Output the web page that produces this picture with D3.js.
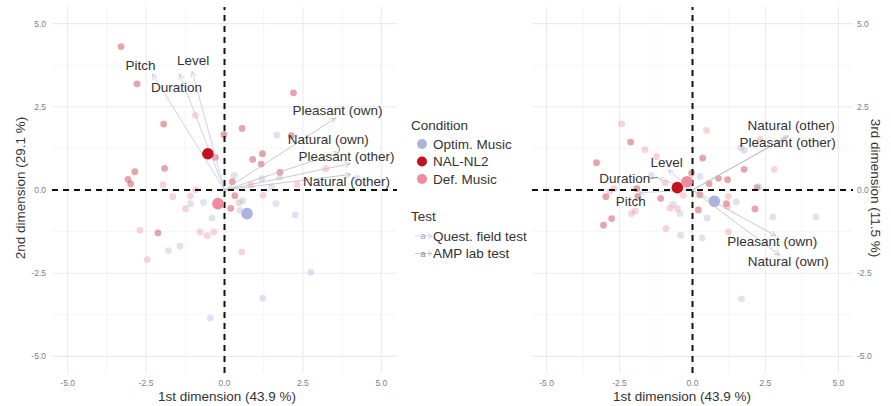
<!DOCTYPE html>
<html>
<head>
<meta charset="utf-8">
<script src="https://cdn.jsdelivr.net/npm/d3@7"></script>
<style>
  body { margin: 0; background: #fff; }
  svg { font-family: "Liberation Sans", Arial, sans-serif; }
</style>
</head>
<body>
<div id="chart"></div>
<script>
// conditions and tests
var conditions = ["Optim. Music", "NAL-NL2", "Def. Music"];
var cond_colors = ["#aab4dc", "#c1121f", "#ee8c9e"];
var tests = ["Quest. field test", "AMP lab test"];
var test_colors = ["#c3c7e6", "#bcbcbc"];

// observations, dim1 vs dim2: [x, y, condition index]
var obs12 = [
  [-3.30, 4.31, 1], [-2.79, 3.19, 1], [-1.94, 1.98, 1], [-0.93, 2.24, 2], [2.20, 2.92, 1],
  [0.56, 1.85, 1], [-0.02, 1.66, 1], [1.67, 1.65, 0], [2.13, 1.63, 1], [1.21, 1.09, 1],
  [0.90, 0.92, 1], [1.17, 0.78, 1], [-0.29, 0.98, 1], [-1.91, 0.65, 1], [-2.86, 0.55, 1],
  [-3.08, 0.32, 1], [-2.99, 0.18, 1], [-1.96, 0.16, 2], [1.77, 0.53, 1], [3.23, 0.64, 2],
  [0.31, 0.44, 0], [0.25, 0.25, 1], [1.19, 0.34, 0], [1.76, 0.38, 0], [2.32, 0.16, 2],
  [4.23, 0.35, 0], [0.84, 0.16, 2], [1.50, 0.10, 0], [-0.92, 0.01, 2], [-1.65, -0.20, 2],
  [-1.09, -0.18, 2], [-1.08, -0.41, 0], [-0.67, -0.37, 0], [-1.24, -0.56, 2], [-0.40, -0.84, 0],
  [0.33, -0.17, 1], [0.46, -0.38, 2], [0.58, -0.32, 0], [0.20, -0.55, 1], [0.49, -0.61, 0],
  [1.23, -0.16, 2], [1.64, -0.41, 0], [2.26, -0.75, 0], [-2.70, -1.21, 2], [-2.12, -1.29, 1],
  [-0.78, -1.26, 2], [-0.55, -1.37, 2], [-0.34, -1.26, 2], [-1.79, -1.82, 0], [-1.42, -1.69, 0],
  [-2.46, -2.09, 2], [0.55, -1.86, 2], [2.75, -2.47, 0], [1.22, -3.25, 0], [-0.45, -3.85, 0]
];
// observations, dim1 vs dim3
var obs13 = [
  [-2.43, 1.99, 2], [-2.12, 1.44, 1], [-1.63, 1.21, 2], [-1.23, 1.00, 2], [0.48, 1.79, 2],
  [0.35, 0.96, 1], [1.77, 0.62, 1], [2.80, 0.62, 2], [1.66, 1.27, 0], [1.77, 1.19, 0],
  [2.32, 1.53, 2], [-1.41, 0.44, 0], [-0.93, 0.22, 2], [-0.03, 0.51, 1], [0.26, 0.41, 0],
  [0.57, 0.19, 1], [0.89, 0.35, 1], [1.20, 0.31, 1], [2.21, 0.07, 1], [2.28, 0.10, 0],
  [-3.29, 0.82, 1], [-2.97, -0.20, 1], [-2.83, -0.04, 2], [-2.69, 0.04, 2], [-1.91, 0.04, 1],
  [-1.87, -0.19, 1], [-1.09, -0.25, 1], [-0.32, -0.16, 2], [-0.66, -0.43, 0], [-0.77, -0.54, 2],
  [-0.52, -0.56, 2], [-0.43, -0.71, 0], [0.25, -0.14, 1], [0.20, -0.60, 1], [0.50, -0.84, 0],
  [1.23, -0.19, 2], [1.16, -0.41, 1], [1.50, -0.35, 0], [1.20, -0.50, 2], [2.14, -0.57, 1],
  [2.75, -0.81, 0], [4.23, -0.81, 0], [-3.05, -1.06, 1], [-2.77, -0.86, 1], [-2.09, -0.71, 2],
  [-1.96, -0.63, 2], [-0.91, -1.16, 2], [-0.41, -1.36, 0], [0.33, -1.44, 0], [1.23, -1.26, 2],
  [1.68, -3.27, 0]
];
// condition means
var means12 = [[0.72, -0.71], [-0.53, 1.09], [-0.21, -0.41]];
var means13 = [[0.75, -0.34], [-0.52, 0.07], [-0.19, 0.25]];

// variable loadings (arrows) and their label positions
var var_names = ["Pitch", "Level", "Duration", "Pleasant (own)", "Natural (own)", "Pleasant (other)", "Natural (other)"];
var var_test = [0, 0, 0, 1, 1, 1, 1];
var load12 = [[-2.30, 3.49], [-1.03, 3.56], [-1.43, 3.49], [3.54, 2.16], [3.66, 1.13], [4.01, 0.79], [4.03, 0.47]];
var label12 = [[-2.68, 3.74], [-1.00, 3.91], [-1.53, 3.08], [3.60, 2.41], [3.31, 1.53], [3.89, 1.01], [3.89, 0.25]];
var load13 = [[-1.83, -0.08], [-0.83, 0.60], [-1.18, 0.35], [2.86, -1.38], [2.98, -1.96], [3.21, 1.57], [3.29, 1.63]];
var label13 = [[-2.12, -0.34], [-0.89, 0.82], [-2.32, 0.34], [2.73, -1.55], [3.28, -2.13], [3.26, 1.42], [3.38, 1.96]];

var major_ticks = [-5, -2.5, 0, 2.5, 5];
var minor_ticks = [-3.75, -1.25, 1.25, 3.75];

var W = 891, H = 406;
var svg = d3.select("#chart").append("svg")
  .attr("width", W).attr("height", H);

function fmt(d) { return d.toFixed(1); }

function panel(opts) {
  var x = d3.scaleLinear().domain([-5.5, 5.5]).range([opts.left, opts.right]);
  var y = d3.scaleLinear().domain([-5.5, 5.5]).range([373, 7]);
  var g = svg.append("g");

  // grid
  g.selectAll(".minx").data(minor_ticks).enter().append("line")
    .attr("x1", d => x(d)).attr("x2", d => x(d)).attr("y1", y(-5.5)).attr("y2", y(5.5))
    .attr("stroke", "#f0f0f0").attr("stroke-width", 0.6);
  g.selectAll(".miny").data(minor_ticks).enter().append("line")
    .attr("y1", d => y(d)).attr("y2", d => y(d)).attr("x1", x(-5.5)).attr("x2", x(5.5))
    .attr("stroke", "#f0f0f0").attr("stroke-width", 0.6);
  g.selectAll(".majx").data(major_ticks).enter().append("line")
    .attr("x1", d => x(d)).attr("x2", d => x(d)).attr("y1", y(-5.5)).attr("y2", y(5.5))
    .attr("stroke", "#ebebeb").attr("stroke-width", 1.1);
  g.selectAll(".majy").data(major_ticks).enter().append("line")
    .attr("y1", d => y(d)).attr("y2", d => y(d)).attr("x1", x(-5.5)).attr("x2", x(5.5))
    .attr("stroke", "#ebebeb").attr("stroke-width", 1.1);

  // tick labels
  g.selectAll(".tx").data(major_ticks).enter().append("text")
    .attr("x", d => x(d)).attr("y", 386)
    .attr("text-anchor", "middle").attr("font-size", 8.5).attr("fill", "#808080")
    .text(fmt);
  g.selectAll(".ty").data(major_ticks).enter().append("text")
    .attr("x", opts.yRight ? x(5.5) + 4 : x(-5.5) - 6)
    .attr("y", d => y(d)).attr("dy", "0.35em")
    .attr("text-anchor", opts.yRight ? "start" : "end")
    .attr("font-size", 8.5).attr("fill", "#808080")
    .text(fmt);

  // axis titles
  g.append("text")
    .attr("x", opts.xTitleX).attr("y", 401)
    .attr("text-anchor", "middle").attr("font-size", 13.5).attr("fill", "#333")
    .text("1st dimension (43.9 %)");
  g.append("text")
    .attr("transform", "translate(" + opts.yTitleX + ",188) rotate(" + (opts.yRight ? 90 : -90) + ")")
    .attr("text-anchor", "middle").attr("dy", "0.35em").attr("font-size", 13.5).attr("fill", "#333")
    .text(opts.yTitle);

  // observations
  g.selectAll(".obs").data(opts.obs).enter().append("circle")
    .attr("cx", d => x(d[0])).attr("cy", d => y(d[1])).attr("r", 3.4)
    .attr("fill", d => cond_colors[d[2]]).attr("fill-opacity", 0.38);

  // arrows
  var origin = [x(0), y(0)];
  opts.load.forEach(function(d, i) {
    var col = test_colors[var_test[i]];
    var tx = x(d[0]), ty = y(d[1]);
    var ang = Math.atan2(ty - origin[1], tx - origin[0]);
    var L = 6, a = Math.PI / 7;
    g.append("line")
      .attr("x1", origin[0]).attr("y1", origin[1]).attr("x2", tx).attr("y2", ty)
      .attr("stroke", col).attr("stroke-width", 0.8);
    g.append("path")
      .attr("d", "M" + (tx - L * Math.cos(ang - a)) + "," + (ty - L * Math.sin(ang - a)) +
        "L" + tx + "," + ty +
        "L" + (tx - L * Math.cos(ang + a)) + "," + (ty - L * Math.sin(ang + a)))
      .attr("fill", "none").attr("stroke", col).attr("stroke-width", 0.8);
  });

  // arrow labels (with leader segment when the label sits away from the tip)
  opts.labels.forEach(function(d, i) {
    var lx = x(d[0]), ly = y(d[1]);
    var t = g.append("text")
      .attr("x", lx).attr("y", ly).attr("dy", "0.35em")
      .attr("text-anchor", "middle").attr("font-size", 13.5).attr("fill", "#333")
      .text(var_names[i]);
    var bb = t.node().getBBox();
    var tx = x(opts.load[i][0]), ty = y(opts.load[i][1]);
    var cx = Math.max(bb.x, Math.min(tx, bb.x + bb.width));
    var cy = Math.max(bb.y, Math.min(ty, bb.y + bb.height));
    var dist = Math.hypot(tx - cx, ty - cy);
    if (dist > 5 && !(tx > bb.x && tx < bb.x + bb.width && ty < bb.y)) {
      g.append("line")
        .attr("x1", cx).attr("y1", cy).attr("x2", tx).attr("y2", ty - 1)
        .attr("stroke", "#444").attr("stroke-width", 0.7);
    }
  });

  // dashed reference lines
  g.append("line")
    .attr("x1", x(-5.5)).attr("x2", x(5.5)).attr("y1", y(0)).attr("y2", y(0))
    .attr("stroke", "#111").attr("stroke-width", 2).attr("stroke-dasharray", "6,5");
  g.append("line")
    .attr("x1", x(0)).attr("x2", x(0)).attr("y1", y(-5.5)).attr("y2", y(5.5))
    .attr("stroke", "#111").attr("stroke-width", 2).attr("stroke-dasharray", "6,5");

  // condition means
  g.selectAll(".mean").data(opts.means).enter().append("circle")
    .attr("cx", d => x(d[0])).attr("cy", d => y(d[1])).attr("r", 5.8)
    .attr("fill", (d, i) => cond_colors[i]);
}

panel({left: 52, right: 397, obs: obs12, means: means12, load: load12, labels: label12,
  yTitle: "2nd dimension (29.1 %)", yTitleX: 20, yRight: false, xTitleX: 227});
panel({left: 532, right: 853, obs: obs13, means: means13, load: load13, labels: label13,
  yTitle: "3rd dimension (11.5 %)", yTitleX: 876, yRight: true, xTitleX: 682});

// legend
var leg = svg.append("g").attr("transform", "translate(411,0)");
leg.append("text").attr("x", 0).attr("y", 125).attr("dy", "0.35em")
  .attr("font-size", 13.5).attr("fill", "#333").text("Condition");
conditions.forEach(function(c, i) {
  var yy = 144 + i * 17.5;
  leg.append("circle").attr("cx", 11).attr("cy", yy).attr("r", 5).attr("fill", cond_colors[i]);
  leg.append("text").attr("x", 22).attr("y", yy).attr("dy", "0.35em")
    .attr("font-size", 13.5).attr("fill", "#333").text(c);
});
leg.append("text").attr("x", 0).attr("y", 216).attr("dy", "0.35em")
  .attr("font-size", 13.5).attr("fill", "#333").text("Test");
tests.forEach(function(t, i) {
  var yy = 236 + i * 17.5;
  leg.append("line").attr("x1", 4).attr("x2", 21).attr("y1", yy).attr("y2", yy)
    .attr("stroke", test_colors[i]).attr("stroke-width", 0.8);
  leg.append("path")
    .attr("d", "M17," + (yy - 2.5) + "L21," + yy + "L17," + (yy + 2.5))
    .attr("fill", "none").attr("stroke", test_colors[i]).attr("stroke-width", 0.8);
  leg.append("text").attr("x", 12).attr("y", yy).attr("dy", "0.35em")
    .attr("text-anchor", "middle").attr("font-size", 9).attr("fill", i == 0 ? "#9aa0d0" : "#888")
    .text("a");
  leg.append("text").attr("x", 22).attr("y", yy).attr("dy", "0.35em")
    .attr("font-size", 13.5).attr("fill", "#333").text(t);
});
</script>
</body>
</html>
